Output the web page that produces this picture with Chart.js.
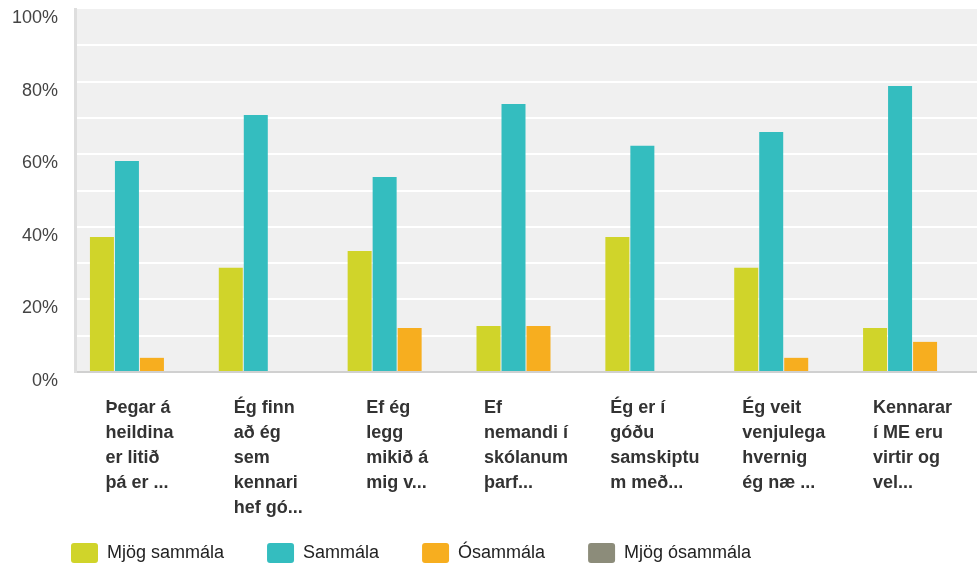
<!DOCTYPE html>
<html>
<head>
<meta charset="utf-8">
<script src="https://cdn.jsdelivr.net/npm/chart.js@4.4.1/dist/chart.umd.min.js"></script>
<style>
    html, body { margin: 0; padding: 0; overflow: hidden; background: #fff; }
    #wrap { width: 977px; height: 573px; position: relative; }
</style>
</head>
<body>
<div id="wrap"><canvas id="surveyChart"></canvas></div>
<script>
// Survey answers per statement, in percent
const categories = [
    ['Þegar á', 'heildina', 'er litið', 'þá er ...'],
    ['Ég finn', 'að ég', 'sem', 'kennari', 'hef gó...'],
    ['Ef ég', 'legg', 'mikið á', 'mig v...'],
    ['Ef', 'nemandi í', 'skólanum', 'þarf...'],
    ['Ég er í', 'góðu', 'samskiptu', 'm með...'],
    ['Ég veit', 'venjulega', 'hvernig', 'ég næ ...'],
    ['Kennarar', 'í ME eru', 'virtir og', 'vel...']
];
const seriesNames = ['Mjög sammála', 'Sammála', 'Ósammála', 'Mjög ósammála'];
const mjogSammala = [37.2, 28.7, 33.3, 12.7, 37.2, 28.7, 12.1];
const sammala = [58.1, 70.8, 53.7, 73.8, 62.3, 66.1, 78.8];
const osammala = [3.9, 0, 12.1, 12.7, 0, 3.9, 8.3];
const mjogOsammala = [0, 0, 0, 0, 0, 0, 0];
const yTicks = [0, 20, 40, 60, 80, 100];

const colors = ['#d0d42a', '#34bdbf', '#f7ae1f', '#8c8c7a'];
const fontFamily = '"Liberation Sans", Arial, sans-serif';

// grey plot background
const plotBackground = {
    id: 'plotBackground',
    beforeDraw(chart) {
        const { ctx, chartArea: a } = chart;
        ctx.save();
        ctx.fillStyle = '#f0f0f0';
        ctx.fillRect(a.left, a.top, a.right - a.left, a.bottom - a.top);
        ctx.restore();
    }
};

// axis texts: y labels sit a bit below their grid line,
// x label blocks are centred under each group with left aligned lines
const axisTexts = {
    id: 'axisTexts',
    afterDraw(chart) {
        const { ctx } = chart;
        const xScale = chart.scales.x;
        const yScale = chart.scales.y;
        ctx.save();

        ctx.font = '18px ' + fontFamily;
        ctx.fillStyle = '#444';
        ctx.textAlign = 'right';
        ctx.textBaseline = 'middle';
        yTicks.forEach(v => {
            ctx.fillText(v + '%', yScale.right - 17, yScale.getPixelForValue(v) + 9);
        });

        ctx.font = 'bold 18px ' + fontFamily;
        ctx.fillStyle = '#333';
        ctx.textAlign = 'left';
        ctx.textBaseline = 'alphabetic';
        categories.forEach((lines, i) => {
            const widest = Math.max(...lines.map(l => ctx.measureText(l).width));
            const left = xScale.getPixelForValue(i) - widest / 2;
            lines.forEach((line, j) => {
                ctx.fillText(line, left, xScale.top + 41 + j * 25);
            });
        });
        ctx.restore();
    }
};

const ctx = document.getElementById('surveyChart').getContext('2d');
const surveyChart = new Chart(ctx, {
    type: 'bar',
    data: {
        labels: categories,
        datasets: [mjogSammala, sammala, osammala, mjogOsammala].map((values, i) => ({
            label: seriesNames[i],
            data: values,
            backgroundColor: colors[i],
            borderWidth: 0,
            categoryPercentage: 0.776,
            barPercentage: 0.96
        }))
    },
    options: {
        responsive: true,
        maintainAspectRatio: false,
        animation: false,
        layout: {
            padding: { top: 9, left: 28, right: 0, bottom: 0 }
        },
        scales: {
            x: {
                ticks: { display: false },
                grid: { display: false },
                border: { color: '#d0d0d0', width: 2 },
                afterFit: scale => { scale.height = 128; }
            },
            y: {
                min: 0,
                max: 100,
                ticks: { display: false, stepSize: 10 },
                grid: {
                    drawTicks: false,
                    lineWidth: 2,
                    color: c => (c.tick && c.tick.value === 100) ? 'rgba(0,0,0,0)' : '#ffffff'
                },
                border: { color: '#dedede', width: 3 },
                afterFit: scale => { scale.width = 47; }
            }
        },
        plugins: {
            legend: {
                position: 'bottom',
                align: 'start',
                labels: {
                    boxWidth: 27,
                    boxHeight: 20,
                    padding: 43,
                    color: '#222',
                    useBorderRadius: true,
                    borderRadius: 3,
                    font: { family: fontFamily, size: 18 }
                }
            },
            tooltip: { enabled: false }
        }
    },
    plugins: [plotBackground, axisTexts]
});
</script>
</body>
</html>
